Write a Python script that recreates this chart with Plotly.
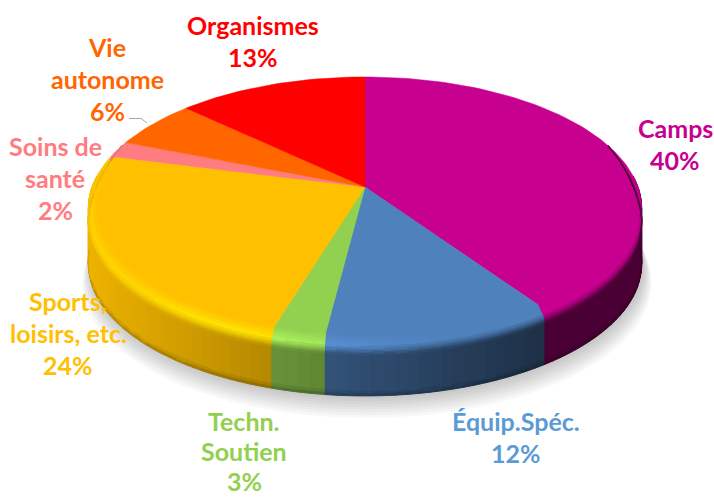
import math
import plotly.graph_objects as go

categories = ["Camps", "Équip.Spéc.", "Techn. Soutien", "Sports, loisirs, etc.", "Soins de santé", "Vie autonome", "Organismes"]
values = [40.4, 11.6, 2.7, 24.3, 2, 6, 13]
colors = ["#c8008f", "#4f81bd", "#92d050", "#ffc000", "#ff7c80", "#ff6600", "#ff0000"]
label_lines = [["Camps", "40%"], ["Équip.Spéc.", "12%"], ["Techn.", "Soutien", "3%"], ["Sports,", "loisirs, etc.", "24%"],
               ["Soins de", "santé", "2%"], ["Vie", "autonome", "6%"], ["Organismes", "13%"]]
label_colors = ["#c8008f", "#5b9bd5", "#92d050", "#ffc000", "#ff7c80", "#ff6600", "#ff0000"]
label_xy = [(675, 128), (516, 421), (244, 421), (68, 301), (55, 146), (107, 47), (253, 25)]
label_steps = [32, 32, 30, 32, 32, 32, 32]

# projection of the pie disc
CX, CY, A, B, K = 365, 187, 273, 128, 0.163
SIDE_H, BEVEL_H, INSET = 56, 15, 0.03


def hex2rgb(c):
    return tuple(int(c[i:i + 2], 16) for i in (1, 3, 5))


def proj(deg, r=1.0, h=0.0):
    t = math.radians(deg)
    u, v = r * math.sin(t), r * math.cos(t)
    d = 1 + K * v
    return CX + A * u / d, CY - B * v / d + h


def light(x):
    return max(0.37, 0.93 - (x - 90) * 0.56 / 455)


def hi(x):
    return min(1.0, max(0.0, (450 - x) / 200))


def mix(a, b, t):
    return tuple(a[i] + (b[i] - a[i]) * t for i in range(3))


def scale(c, f):
    return tuple(min(255, c[i] * f) for i in range(3))


def key(c):
    return "rgb(%d,%d,%d)" % tuple(round(v) for v in c)


def add_group(groups, color, poly):
    g = groups.setdefault(color, ([], []))
    g[0].extend([p[0] for p in poly] + [poly[0][0], None])
    g[1].extend([p[1] for p in poly] + [poly[0][1], None])


def flush(fig, groups):
    for col, (xs, ys) in groups.items():
        fig.add_trace(go.Scatter(x=xs, y=ys, mode="lines", fill="toself", fillcolor=col,
                                 line=dict(color=col, width=1), hoverinfo="skip", showlegend=False))


fig = go.Figure()

# soft shadow under the pie
for i in range(8):
    grow = 1 + 0.004 * i
    pts = [proj(a, grow, SIDE_H + 3 + 2 * i) for a in range(0, 361, 3)]
    fig.add_trace(go.Scatter(x=[p[0] + 2 for p in pts], y=[p[1] for p in pts], mode="lines", fill="toself",
                             fillcolor="rgba(0,0,0,0.026)", line=dict(width=0), hoverinfo="skip", showlegend=False))

# slice angle ranges
total = sum(values)
ranges = []
acc = 0
for v in values:
    ranges.append((acc / total * 360, (acc + v) / total * 360))
    acc += v


def arc(a0, a1, lo, hi_):
    a0, a1 = max(a0, lo), min(a1, hi_)
    if a1 <= a0:
        return []
    n = max(1, int((a1 - a0) / 2))
    return [a0 + (a1 - a0) * i / n for i in range(n + 1)]


# side wall
side = {}
for (a0, a1), col in zip(ranges, colors):
    base = hex2rgb(col)
    angs = arc(a0, a1, 85, 275)
    for s, e in zip(angs, angs[1:]):
        xm = proj((s + e) / 2)[0]
        c = scale(base, light(xm))
        for h0, h1, f in [(0, SIDE_H - 5, 1.0), (SIDE_H - 5, SIDE_H - 2, 0.92), (SIDE_H - 2, SIDE_H, 0.8)]:
            poly = [proj(s, 1, h0), proj(e, 1, h0), proj(e, 1, h1), proj(s, 1, h1)]
            add_group(side, key(scale(c, f)), poly)
flush(fig, side)

# top surface
for (a0, a1), col, name in zip(ranges, colors, categories):
    n = max(2, int((a1 - a0) / 1.5))
    pts = [proj(a0 + (a1 - a0) * i / n) for i in range(n + 1)]
    xs = [CX] + [p[0] for p in pts] + [CX]
    ys = [CY] + [p[1] for p in pts] + [CY]
    fig.add_trace(go.Scatter(x=xs, y=ys, mode="lines", fill="toself", fillcolor=col, name=name,
                             line=dict(color=col, width=0.5), hoverinfo="skip", showlegend=False))

# rounded bevel between top and wall
STEPS = [i / 10 for i in range(11)]


def bevel_pt(a, s):
    v = math.cos(math.radians(a))
    w = min(1.0, max(0.0, (0.35 - v) / 0.35))
    return proj(a, 1 - INSET * w * (1 - min(1, s * 1.6)), BEVEL_H * w * s)


def bevel_color(base, x, s):
    top = base
    shade = scale(base, light(x))
    front = min(1.0, max(0.0, (x - 90) / 110))
    peak = mix(base, scale(base, 1.10 + 0.08 * front), hi(x))
    if s < 0.45:
        return mix(top, peak, s / 0.45)
    return mix(peak, shade, (s - 0.45) / 0.55)


bevel = {}
for (a0, a1), col in zip(ranges, colors):
    base = hex2rgb(col)
    angs = arc(a0, a1, 70, 290)
    for s0, e0 in zip(angs, angs[1:]):
        xm = proj((s0 + e0) / 2)[0]
        for t0, t1 in zip(STEPS, STEPS[1:]):
            poly = [bevel_pt(s0, t0), bevel_pt(e0, t0), bevel_pt(e0, t1), bevel_pt(s0, t1)]
            add_group(bevel, key(bevel_color(base, xm, (t0 + t1) / 2)), poly)
flush(fig, bevel)

# leader line for the 6% label
fig.add_trace(go.Scatter(x=[129, 141, 147], y=[118.5, 118.5, 123], mode="lines",
                         line=dict(color="#a6a6a6", width=1), hoverinfo="skip", showlegend=False))

for lines, col, (lx, ly), step in zip(label_lines, label_colors, label_xy, label_steps):
    for i, t in enumerate(lines):
        fig.add_annotation(x=lx, y=ly + i * step, text=t, showarrow=False, xanchor="center", yanchor="middle",
                           font=dict(family="Lato", size=25, color=col, weight="bold"))

fig.update_layout(width=714, height=497, margin=dict(l=0, r=0, t=0, b=0), showlegend=False,
                  paper_bgcolor="white", plot_bgcolor="white",
                  xaxis=dict(range=[0, 714], visible=False, fixedrange=True),
                  yaxis=dict(range=[497, 0], visible=False, fixedrange=True))
fig.write_html("out.html", config={"displayModeBar": False},
               post_script="document.body.style.margin='0';")
